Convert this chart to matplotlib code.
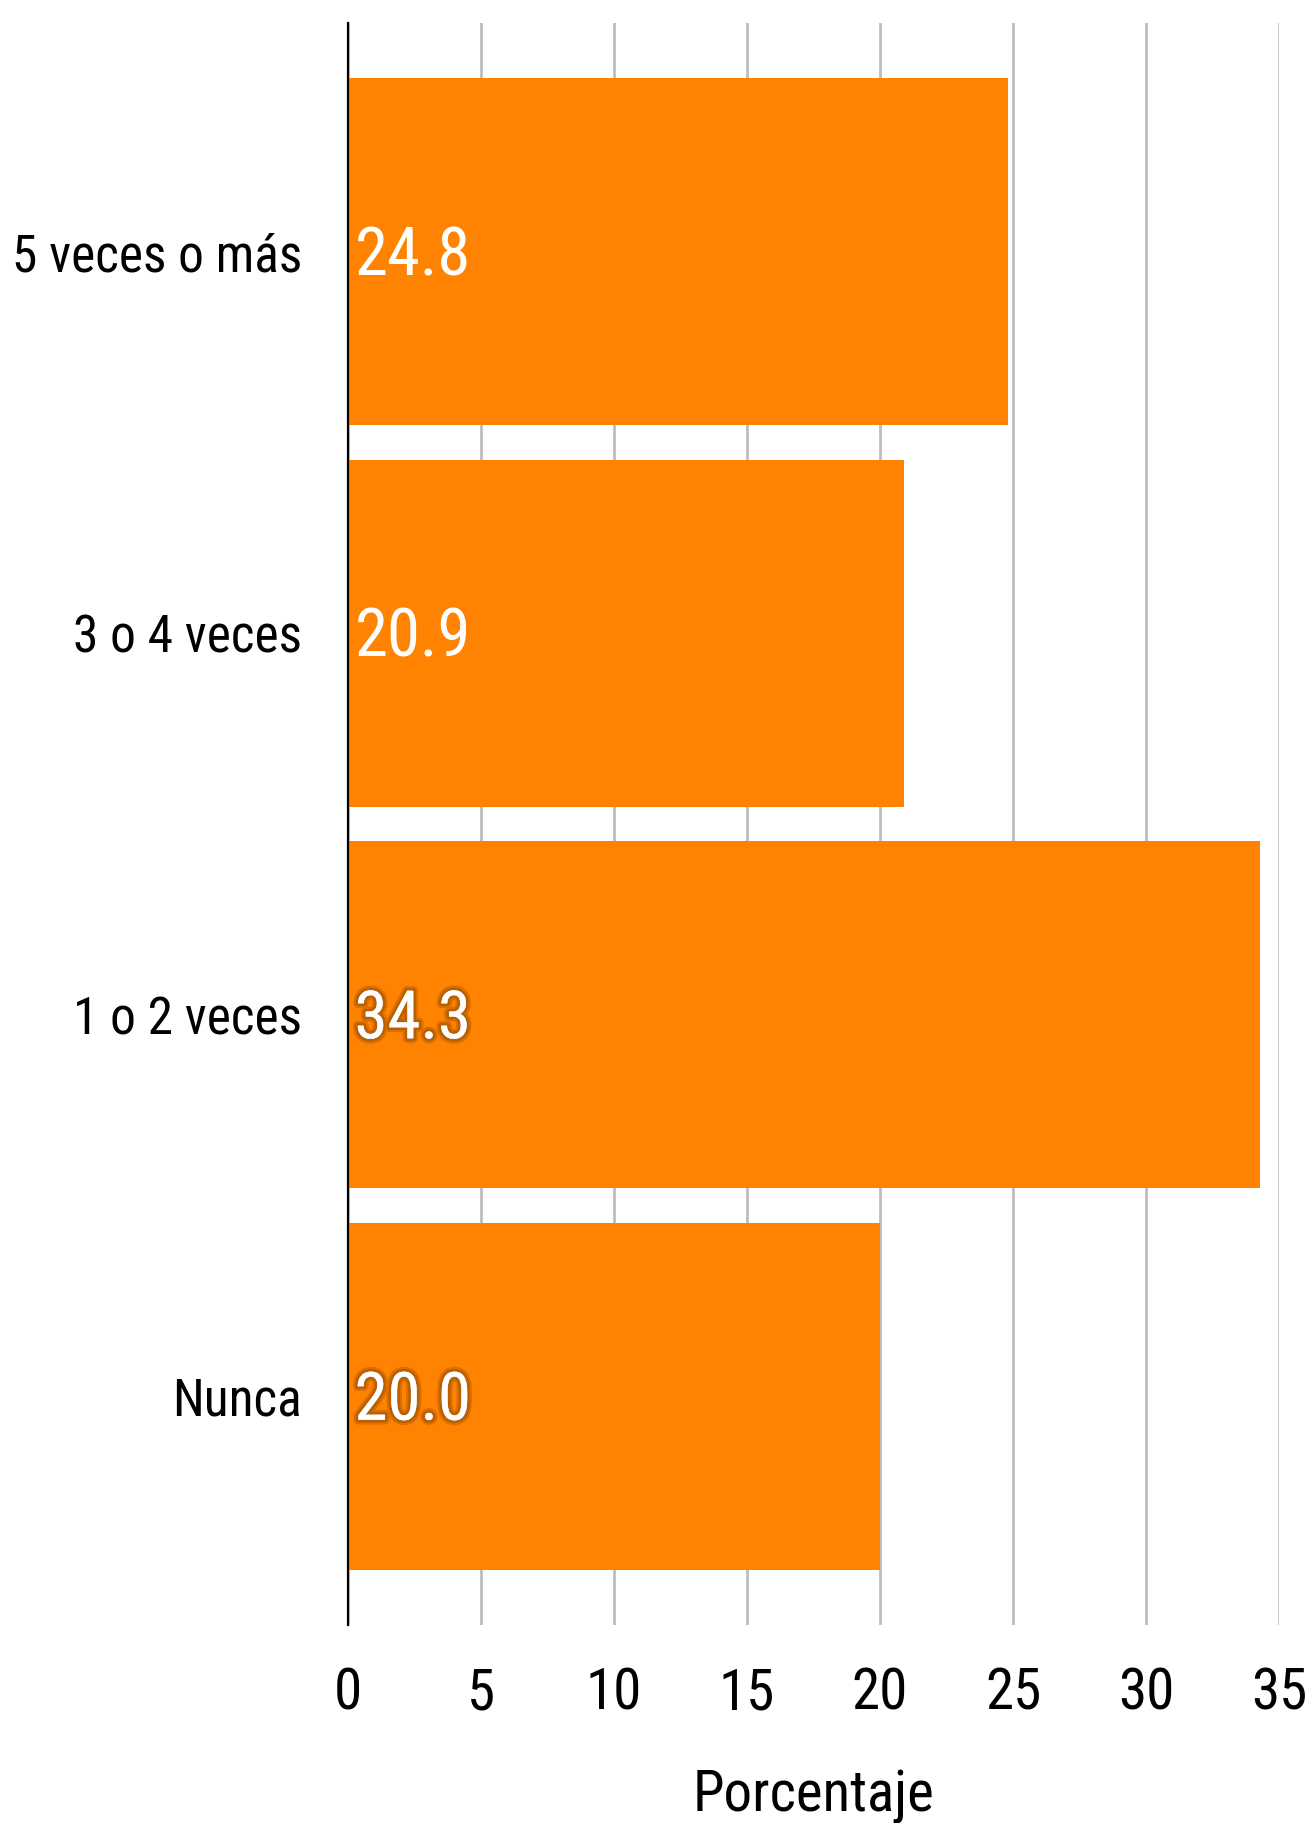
import matplotlib
matplotlib.use("Agg")
import matplotlib.pyplot as plt
import matplotlib.patheffects as pe
from matplotlib import font_manager

categories = ["5 veces o más", "3 o 4 veces", "1 o 2 veces", "Nunca"]
values = [24.8, 20.9, 34.3, 20.0]
xticks = [0, 5, 10, 15, 20, 25, 30, 35]
shadowed = [False, False, True, True]

names = {f.name for f in font_manager.fontManager.ttflist}
if "Roboto Condensed" in names:
    fam, scale = "Roboto Condensed", 1.0
elif "Liberation Sans Narrow" in names:
    fam, scale = "Liberation Sans Narrow", 1.0
else:
    fam, scale = "Roboto", 0.88

plt.rcParams['font.family'] = [fam, 'DejaVu Sans']

fig = plt.figure(figsize=(13.15, 18.23), dpi=100)
ax = fig.add_axes([348/1315, 1-1625/1823, (1279-348)/1315, (1625-23)/1823])

ypos = list(range(len(categories)))
ax.barh(ypos, values, height=0.91, color="#FF8300", zorder=2)
ax.set_ylim(len(categories) - 0.4, -0.6)
ax.set_xlim(0, 35)
ax.set_xticks(xticks)
ax.set_xticklabels([str(t) for t in xticks], fontsize=41 * scale)
ax.set_yticks(ypos)
ax.set_yticklabels(categories, fontsize=37 * scale)
ax.tick_params(axis='x', length=0, pad=30)
ax.tick_params(axis='y', length=0, pad=33)
ax.grid(axis='x', color="#BDBDBD", linewidth=2, zorder=0)
for s in ['top', 'right', 'bottom']:
    ax.spines[s].set_visible(False)
ax.spines['left'].set_linewidth(1.6)
ax.spines['left'].set_color('black')
ax.spines['left'].set_zorder(3)
ax.set_xlabel("Porcentaje", fontsize=41 * scale, labelpad=34)

for y, v, sh in zip(ypos, values, shadowed):
    t = ax.annotate(f"{v:.1f}", xy=(0.25, y), xytext=(0, -4), textcoords='offset points',
                    color="white", fontsize=48 * scale, va='center', ha='left', zorder=4)
    if sh:
        t.set_path_effects([pe.withStroke(linewidth=7, foreground=(0.3, 0.15, 0.0, 0.2)),
                            pe.withStroke(linewidth=4, foreground=(0.3, 0.15, 0.0, 0.22))])

fig.savefig("out.png", dpi=100)
